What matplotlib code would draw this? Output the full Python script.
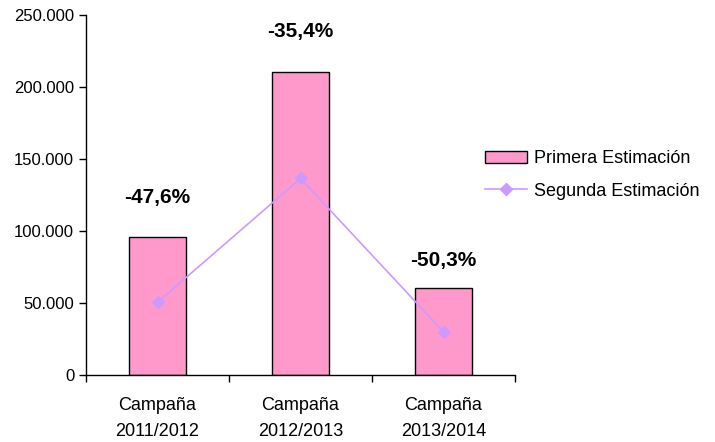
import matplotlib
matplotlib.use("Agg")
import matplotlib.pyplot as plt
from matplotlib.ticker import FuncFormatter, FixedLocator

categories = ["Campaña\n2011/2012", "Campaña\n2012/2013", "Campaña\n2013/2014"]
primera = [96000, 210500, 60300]
segunda = [50500, 136500, 30000]
labels = ["-47,6%", "-35,4%", "-50,3%"]
label_offsets = [28, 29, 20]

plt.rcParams['font.family'] = ['Liberation Sans', 'DejaVu Sans']

fig = plt.figure(figsize=(7.15, 4.42), dpi=100)
ax = fig.add_axes([86/715, 1-375/442, (515-86)/715, (375-15)/442])

x = list(range(len(categories)))
bars = ax.bar(x, primera, width=0.405, color="#FF99CC", edgecolor="black", linewidth=1,
              label="Primera Estimación", zorder=2)
line, = ax.plot(x, segunda, color="#CC99FF", marker="D", markersize=6, linewidth=1.2,
                label="Segunda Estimación", zorder=3)

for xi, v, t, off in zip(x, primera, labels, label_offsets):
    ax.annotate(t, (xi, v), xytext=(0, off), textcoords="offset points",
                ha="center", va="center", fontsize=15, fontweight="bold")

ax.set_xlim(-0.5, 2.5)
ax.set_ylim(0, 250000)
ax.set_yticks(range(0, 250001, 50000))
ax.yaxis.set_major_formatter(FuncFormatter(lambda v, p: f"{int(v):,}".replace(",", ".")))
ax.set_xticks(x)
ax.set_xticklabels(categories, fontsize=13, linespacing=1.7)
ax.tick_params(axis="x", which="major", length=0, pad=16)
ax.xaxis.set_minor_locator(FixedLocator([-0.5, 0.5, 1.5, 2.5]))
ax.tick_params(axis="x", which="minor", length=5, direction="out", width=1)
ax.tick_params(axis="y", length=5, direction="out", width=1, labelsize=12)
for s in ["top", "right"]:
    ax.spines[s].set_visible(False)
for s in ["left", "bottom"]:
    ax.spines[s].set_linewidth(1)

leg = fig.legend(handles=[bars, line], labels=["Primera Estimación", "Segunda Estimación"],
                 loc="upper left", bbox_to_anchor=(478/715, 1-143/442), frameon=False,
                 fontsize=13, handlelength=2.3, handletextpad=0.4, labelspacing=0.85,
                 borderaxespad=0)

fig.savefig("out.png", dpi=100)
